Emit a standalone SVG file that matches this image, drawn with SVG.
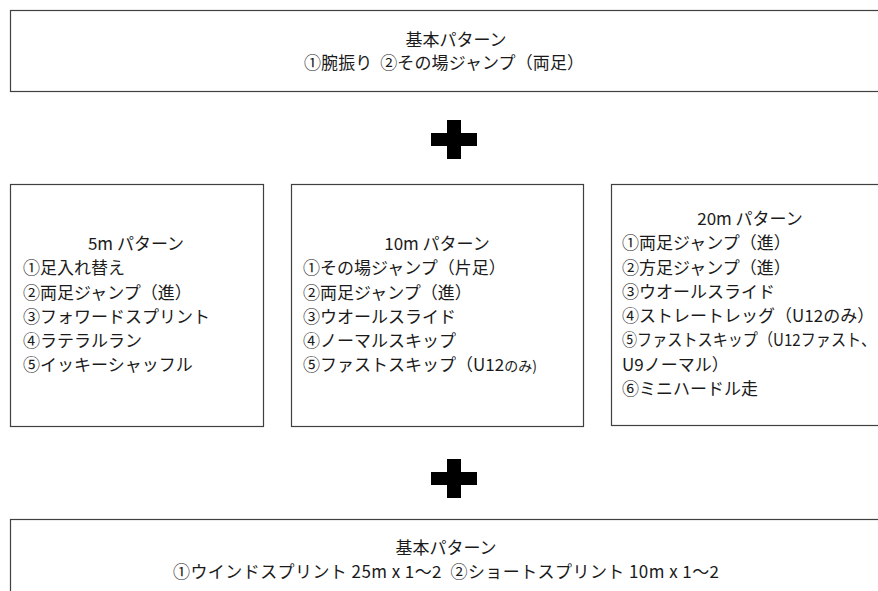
<svg xmlns="http://www.w3.org/2000/svg" width="878" height="591" viewBox="0 0 878 591">
<style>
.box{fill:#fff;stroke:#404040;stroke-width:1.2}
text{font-family:"Noto Sans CJK JP","Noto Sans",sans-serif;font-size:17px;fill:#1a1a1a;white-space:pre}
.c{text-anchor:middle}
.plus{fill:#000}
</style>
<rect width="878" height="591" fill="#fff"/>
<g id="top">
<rect class="box" x="10.5" y="10.5" width="880" height="81"/>
<text class="c" x="456" y="46">基本パターン</text>
<text class="c" x="444" y="69" textLength="280" lengthAdjust="spacing">①腕振り  ②その場ジャンプ（両足）</text>
</g>
<g id="operators">
<path class="plus" d="M447 120h14v13h16v13h-16v13h-14v-13h-16v-13h16z"/>
<path class="plus" d="M447 459h14v13h16v13h-16v13h-14v-13h-16v-13h16z"/>
</g>
<g id="p5m">
<rect class="box" x="10.5" y="184.5" width="253" height="242"/>
<text class="c" x="136" y="250">5m パターン</text>
<text x="23" y="274">①足入れ替え</text>
<text x="23" y="298.5">②両足ジャンプ（進）</text>
<text x="23" y="323">③フォワードスプリント</text>
<text x="23" y="347">④ラテラルラン</text>
<text x="23" y="371">⑤イッキーシャッフル</text>
</g>
<g id="p10m">
<rect class="box" x="291.5" y="184.5" width="292" height="242"/>
<text class="c" x="437" y="250">10m パターン</text>
<text x="303" y="274">①その場ジャンプ（片足）</text>
<text x="303" y="298.5">②両足ジャンプ（進）</text>
<text x="303" y="323">③ウオールスライド</text>
<text x="303" y="347">④ノーマルスキップ</text>
<text x="303" y="371">⑤ファストスキップ（U12<tspan font-size="14">のみ)</tspan></text>
</g>
<g id="p20m">
<rect class="box" x="611.5" y="184.5" width="280" height="241"/>
<text class="c" x="750" y="225">20m パターン</text>
<text x="622" y="249">①両足ジャンプ（進）</text>
<text x="622" y="273.5">②方足ジャンプ（進）</text>
<text x="622" y="298">③ウオールスライド</text>
<text x="622" y="322">④ストレートレッグ（U12のみ）</text>
<text x="622" y="346" textLength="254" lengthAdjust="spacingAndGlyphs">⑤ファストスキップ（U12ファスト、</text>
<text x="622" y="370.5">U9ノーマル）</text>
<text x="622" y="395">⑥ミニハードル走</text>
</g>
<g id="bottom">
<rect class="box" x="10.5" y="519.5" width="880" height="90"/>
<text class="c" x="446" y="554">基本パターン</text>
<text class="c" x="446" y="578" textLength="546" lengthAdjust="spacing">①ウインドスプリント 25m x 1～2  ②ショートスプリント 10m x 1～2</text>
</g>
</svg>
